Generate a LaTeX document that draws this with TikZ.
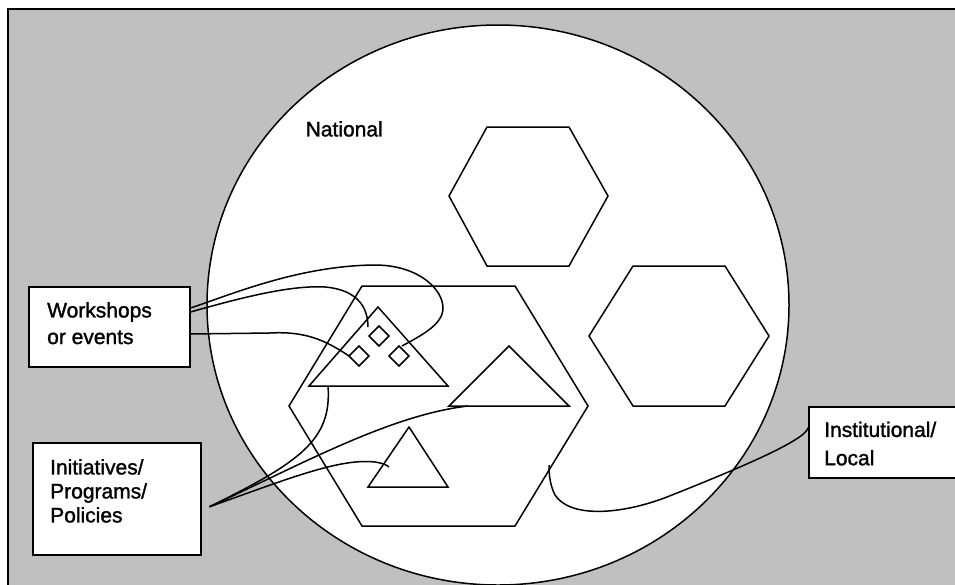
\documentclass[tikz,border=0pt]{standalone}
\usepackage{fontspec}
\setmainfont{Liberation Sans}
\newfontfamily\lblfont{Liberation Sans}[FakeBold=1.4]
\definecolor{bggray}{RGB}{192,192,192}
\begin{document}
\begin{tikzpicture}[x=1pt,y=-1pt,line join=miter,
  outl/.style={draw=black,line width=1.5pt},
  boxn/.style={draw=black,fill=white,line width=1.5pt,rectangle,inner sep=0pt,anchor=north west},
  txt/.style={anchor=north west,inner sep=0pt,align=left},
  conn/.style={draw=black,line width=1.5pt}]
\useasboundingbox (0,0) rectangle (955,584);
\clip (0,0) rectangle (955,584);
\fill[white] (0,0) rectangle (955,584);
\draw[fill=bggray,line width=2pt] (8,9) rectangle (975,600);
% national sphere
\draw[outl,fill=white] (498,305) ellipse [x radius=291pt, y radius=280pt];
\node[txt,font=\lblfont\fontsize{21}{24}\selectfont] (nat) at (305.5,121) {National};
% hexagons
\draw[outl] (487,127) -- (569,127) -- (608,196) -- (569,266) -- (487,266) -- (449,196) -- cycle;
\draw[outl] (633,266) -- (725,266) -- (769,336) -- (725,406) -- (633,406) -- (589,336) -- cycle;
\draw[outl] (362,286) -- (515,286) -- (588,406) -- (515,526) -- (362,526) -- (289,406) -- cycle;
% triangles
\draw[outl] (378,307) -- (448,386) -- (309,386) -- cycle;
\draw[outl] (509,346) -- (569,406) -- (449,406) -- cycle;
\draw[outl] (409,427) -- (448,487) -- (368,487) -- cycle;
% diamonds
\draw[outl] (379,336) +(0,-10) -- +(10,0) -- +(0,10) -- +(-10,0) -- cycle;
\draw[outl] (359,356) +(0,-10) -- +(10,0) -- +(0,10) -- +(-10,0) -- cycle;
\draw[outl] (399,356) +(0,-10) -- +(10,0) -- +(0,10) -- +(-10,0) -- cycle;
% boxes
\node[boxn,minimum width=161pt,minimum height=80pt] (ws) at (28,286) {};
\node[txt,font=\lblfont\fontsize{21}{26.6}\selectfont] (wst) at (47,302) {Workshops\\or events};
\node[boxn,minimum width=168pt,minimum height=112pt] (ip) at (32,442) {};
\node[txt,font=\lblfont\fontsize{21}{24}\selectfont] (ipt) at (50,459) {Initiatives/\\Programs/\\Policies};
\node[boxn,minimum width=170pt,minimum height=71pt] (inst) at (808,406) {};
\node[txt,font=\lblfont\fontsize{21}{28.3}\selectfont] (instt) at (824,421.5) {Institutional/\\Local};
% connector ends
\coordinate (wsA) at ([yshift=-22pt]ws.north east);
\coordinate (wsB) at ([yshift=-26pt]ws.north east);
\coordinate (wsC) at ([yshift=-48pt]ws.north east);
\coordinate (dC) at (402,346);
\coordinate (dA) at (368,327);
\coordinate (dB) at (349,356);
\coordinate (ipP) at ([xshift=8pt,yshift=-8pt]ip.east);
\coordinate (t1b) at (328,386);
\coordinate (t2b) at (468,406);
\coordinate (t3i) at (389,467);
\coordinate (instP) at ([yshift=14.5pt]inst.west);
\coordinate (hexP) at (549,465);
% connectors
\draw[conn] (wsA) .. controls (230,295) and (300,265) .. (377,265)
  .. controls (420,266) and (443,290) .. (443,308)
  .. controls (443,325) and (420,336) .. (dC);
\draw[conn] (wsB) .. controls (240,298) and (290,285) .. (325,287)
  .. controls (360,290) and (368,310) .. (dA);
\draw[conn] (wsC) -- (270,333) .. controls (305,331) and (325,340) .. (dB);
\draw[conn] (ipP) .. controls (300,462) and (332,440) .. (t1b);
\draw[conn] (ipP) .. controls (300,465) and (390,415) .. (t2b);
\draw[conn] (ipP) .. controls (290,478) and (340,458) .. (375,462)
  .. controls (382,463) and (387,465) .. (t3i);
\draw[conn] (instP) .. controls (806,440) and (740,468) .. (667,497)
  .. controls (620,515) and (570,518) .. (555,495)
  .. controls (550,485) and (549,475) .. (hexP);
\end{tikzpicture}
\end{document}
